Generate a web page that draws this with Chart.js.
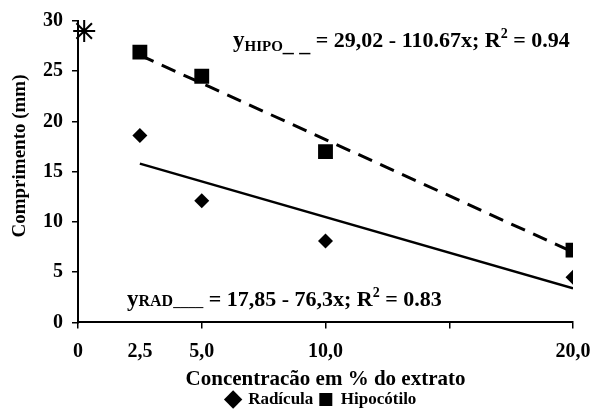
<!DOCTYPE html>
<html lang="pt">
<head>
<meta charset="UTF-8">
<title>Comprimento x Concentração do extrato</title>
<style>
    body { margin: 0; background: #fff; }
    #wrap { width: 590px; height: 418px; }
</style>
</head>
<body>
<div id="wrap"><canvas id="grafico"></canvas></div>
<script src="https://cdn.jsdelivr.net/npm/chart.js"></script>
<script>
    // concentração do extrato (%)
    const concentracoes = [2.5, 5, 10, 20];
    const radicula = [18.6, 12.1, 8.1, 4.5];
    const hipocotilo = [26.9, 24.5, 17.0, 7.2];

    // retas de regressão (extremos)
    const retaX = [2.5, 20];
    const retaHipo = [26.6, 7.0];
    const retaRad = [15.8, 3.4];

    // controle
    const controleX = [0.25];
    const controleY = [29];

    const xTicks = [0, 2.5, 5, 10, 15, 20];
    const xLabels = ['0', '2,5', '5,0', '10,0', '', '20,0'];

    const FONTE = '"Liberation Serif", "Times New Roman", serif';

    const pares = (xs, ys) => xs.map((x, i) => ({ x: x, y: ys[i] }));

    // escreve uma linha de texto com trechos de tamanhos diferentes
    function escreve(ctx, x, y, trechos) {
        ctx.save();
        ctx.fillStyle = '#000';
        ctx.textBaseline = 'alphabetic';
        ctx.textAlign = 'left';
        trechos.forEach(t => {
            ctx.font = 'bold ' + t.size + 'px ' + FONTE;
            ctx.fillText(t.t, x, y + (t.dy || 0));
            x += ctx.measureText(t.t).width;
        });
        ctx.restore();
    }

    const textos = {
        id: 'textos',
        afterLayout(chart) {
            // legenda um pouco à direita do centro
            chart.legend.left += 70;
        },
        afterDraw(chart) {
            const ctx = chart.ctx;
            escreve(ctx, 233, 47, [
                { t: 'y', size: 23 },
                { t: 'HIPO', size: 15, dy: 4 },
                { t: '_ _', size: 22, dy: 4 },
                { t: ' = 29,02 - 110.67x; R', size: 22 },
                { t: '2', size: 14, dy: -9 },
                { t: ' = 0.94', size: 22 }
            ]);
            escreve(ctx, 127, 306, [
                { t: 'y', size: 23 },
                { t: 'RAD', size: 16 },
                { t: '____', size: 15 },
                { t: ' = 17,85 - 76,3x; R', size: 22 },
                { t: '2', size: 14, dy: -9 },
                { t: ' = 0.83', size: 22 }
            ]);
            // título do eixo y
            ctx.save();
            ctx.translate(20, 156);
            ctx.rotate(-Math.PI / 2);
            ctx.font = 'bold 19px ' + FONTE;
            ctx.fillStyle = '#000';
            ctx.textAlign = 'center';
            ctx.textBaseline = 'middle';
            ctx.fillText('Comprimento (mm)', 0, 0);
            ctx.restore();
        }
    };

    new Chart(document.getElementById('grafico'), {
        type: 'scatter',
        data: {
            datasets: [
                {
                    label: 'Radícula',
                    data: pares(concentracoes, radicula),
                    pointStyle: 'rectRot',
                    pointRadius: 7.5,
                    backgroundColor: '#000',
                    borderColor: '#000',
                    borderWidth: 0
                },
                {
                    label: 'Hipocótilo',
                    data: pares(concentracoes, hipocotilo),
                    pointStyle: 'rect',
                    pointRadius: 10.5,
                    backgroundColor: '#000',
                    borderColor: '#000',
                    borderWidth: 0
                },
                {
                    label: 'reta hipo',
                    type: 'line',
                    data: pares(retaX, retaHipo),
                    borderColor: '#000',
                    borderWidth: 3,
                    borderDash: [15, 9],
                    pointRadius: 0,
                    fill: false
                },
                {
                    label: 'reta rad',
                    type: 'line',
                    data: pares(retaX, retaRad),
                    borderColor: '#000',
                    borderWidth: 2.5,
                    pointRadius: 0,
                    fill: false
                },
                {
                    label: 'controle',
                    data: pares(controleX, controleY),
                    pointStyle: 'star',
                    pointRadius: 11,
                    borderColor: '#000',
                    borderWidth: 2,
                    clip: false
                }
            ]
        },
        options: {
            responsive: true,
            maintainAspectRatio: false,
            animation: false,
            layout: { padding: { top: 21, right: 17, left: 0, bottom: 0 } },
            plugins: {
                tooltip: { enabled: false },
                legend: {
                    position: 'bottom',
                    labels: {
                        filter: item => item.datasetIndex < 2,
                        usePointStyle: true,
                        boxWidth: 13,
                        boxHeight: 13,
                        padding: 6,
                        color: '#000',
                        font: { family: FONTE, size: 17, weight: 'bold' }
                    }
                }
            },
            scales: {
                x: {
                    type: 'linear',
                    min: 0,
                    max: 20,
                    afterBuildTicks: s => { s.ticks = xTicks.map(v => ({ value: v })); },
                    afterFit: s => {
                        s.height = 62.6;
                        s.paddingRight = 0;
                        s.paddingLeft = 0;
                    },
                    ticks: {
                        autoSkip: false,
                        maxRotation: 0,
                        color: '#000',
                        padding: 11,
                        font: { family: FONTE, size: 20, weight: 'bold' },
                        callback: (v, i) => xLabels[i]
                    },
                    grid: {
                        drawOnChartArea: false,
                        tickLength: 6,
                        tickColor: c => (c.tick && c.tick.value === 2.5) ? 'rgba(0,0,0,0)' : '#000',
                        lineWidth: 1.5
                    },
                    border: { color: '#000', width: 2 },
                    title: {
                        display: true,
                        text: 'Concentracão em % do extrato',
                        color: '#000',
                        padding: { top: 0, bottom: -5 },
                        font: { family: FONTE, size: 21, weight: 'bold', lineHeight: 1 }
                    }
                },
                y: {
                    min: 0,
                    max: 30,
                    afterFit: s => { s.width = 78; },
                    ticks: {
                        stepSize: 5,
                        color: '#000',
                        padding: 9,
                        font: { family: FONTE, size: 20, weight: 'bold' }
                    },
                    grid: {
                        drawOnChartArea: false,
                        tickLength: 6,
                        tickColor: '#000',
                        lineWidth: 1.5
                    },
                    border: { color: '#000', width: 2 }
                }
            }
        },
        plugins: [textos]
    });
</script>
</body>
</html>
